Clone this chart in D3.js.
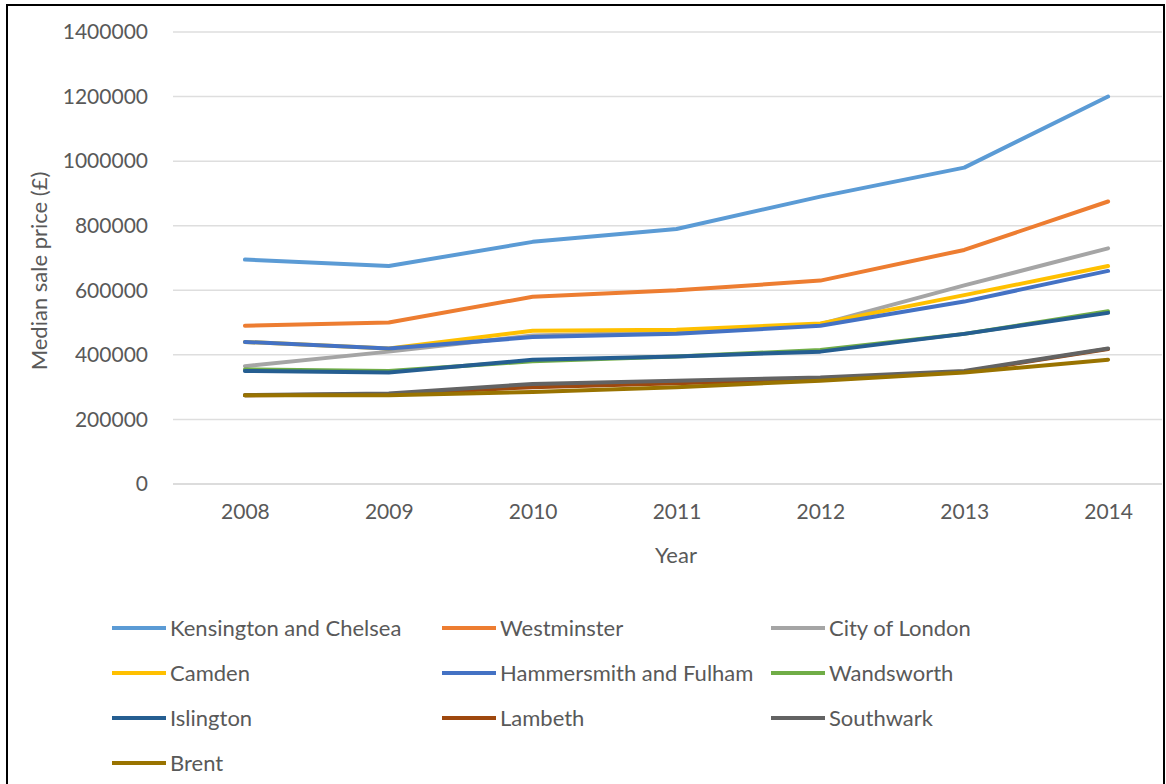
<!DOCTYPE html>
<html><head><meta charset="utf-8">
<script src="https://cdn.jsdelivr.net/npm/d3@7"></script>
<style>
html,body{margin:0;padding:0;background:#fff;}
svg{display:block;font-family:Lato,"Open Sans",sans-serif;}
</style></head>
<body><svg id="c" width="1166" height="784"></svg>
<script>
const years = ["2008","2009","2010","2011","2012","2013","2014"];
const yTicks = [0,200000,400000,600000,800000,1000000,1200000,1400000];
const names = ["Kensington and Chelsea","Westminster","City of London","Camden","Hammersmith and Fulham","Wandsworth","Islington","Lambeth","Southwark","Brent"];
const colors = ["#5B9BD5","#ED7D31","#A5A5A5","#FFC000","#4472C4","#70AD47","#255E91","#9E480E","#636363","#997300"];
const kensington = [695000,675000,750000,790000,890000,980000,1200000];
const westminster = [490000,500000,580000,600000,630000,725000,875000];
const cityOfLondon = [365000,410000,460000,470000,495000,615000,730000];
const camden = [440000,420000,475000,478000,497000,585000,675000];
const hammersmith = [440000,420000,455000,465000,490000,565000,660000];
const wandsworth = [355000,350000,380000,395000,415000,465000,535000];
const islington = [350000,345000,385000,395000,410000,465000,530000];
const lambeth = [275000,278000,300000,312000,325000,348000,418000];
const southwark = [275000,280000,310000,320000,330000,350000,420000];
const brent = [275000,275000,285000,300000,320000,345000,385000];
const series = [kensington,westminster,cityOfLondon,camden,hammersmith,wandsworth,islington,lambeth,southwark,brent];

(function(){
const svg = d3.select("#c");
const pL = 173, pR = 1180, pT = 32, pB = 484;
const x = d3.scalePoint().domain(years).range([pL, pR]).padding(0.5);
const y = d3.scaleLinear().domain([0,1400000]).range([pB, pT]);

const clipW = 1162;
// gridlines
svg.append("g").selectAll("line").data(yTicks).join("line")
  .attr("x1", pL).attr("x2", clipW)
  .attr("y1", d=>y(d)).attr("y2", d=>y(d))
  .attr("stroke", d=> d===0 ? "#d0d0d0" : "#dedede").attr("stroke-width", 1.5);

// y axis labels
const yAxis = d3.axisLeft(y).tickValues(yTicks).tickSize(0).tickPadding(0).tickFormat(d=>String(d));
const gy = svg.append("g").attr("transform", `translate(148,0)`).call(yAxis);
gy.select(".domain").remove();
gy.selectAll("text").attr("fill","#595959").attr("font-size",21).attr("font-family","Lato,'Open Sans',sans-serif");

// x axis labels
const xAxis = d3.axisBottom(x).tickSize(0).tickPadding(0);
const gx = svg.append("g").attr("transform", `translate(0,${pB+20})`).call(xAxis);
gx.select(".domain").remove();
gx.selectAll("text").attr("fill","#595959").attr("font-size",21).attr("font-family","Lato,'Open Sans',sans-serif");

// axis titles
svg.append("text").attr("x", 676).attr("y", 563).attr("text-anchor","middle")
  .attr("fill","#595959").attr("font-size",22).text("Year");
svg.append("text").attr("transform","translate(47,271) rotate(-90)").attr("text-anchor","middle")
  .attr("fill","#595959").attr("font-size",22).text("Median sale price (£)");

// lines
const line = d3.line().x((d,i)=>x(years[i])).y(d=>y(d));
svg.append("g").selectAll("path").data(series).join("path")
  .attr("d", d=>line(d)).attr("fill","none")
  .attr("stroke", (d,i)=>colors[i]).attr("stroke-width",4)
  .attr("stroke-linejoin","round").attr("stroke-linecap","round");

// legend
const colX = [112, 442, 771];
const rowY = [628, 673, 718, 763];
const lg = svg.append("g").selectAll("g").data(names).join("g")
  .attr("transform",(d,i)=>`translate(${colX[i%3]},${rowY[Math.floor(i/3)]})`);
lg.append("line").attr("x1",0).attr("x2",54).attr("y1",0).attr("y2",0)
  .attr("stroke",(d,i)=>colors[i]).attr("stroke-width",4);
lg.append("text").attr("x",58).attr("y",8).attr("fill","#595959").attr("font-size",22).text(d=>d);

// outer border
svg.append("rect").attr("x",7).attr("y",5).attr("width",1157).attr("height",790)
  .attr("fill","none").attr("stroke","#000").attr("stroke-width",2);
})();
</script>
</body></html>
